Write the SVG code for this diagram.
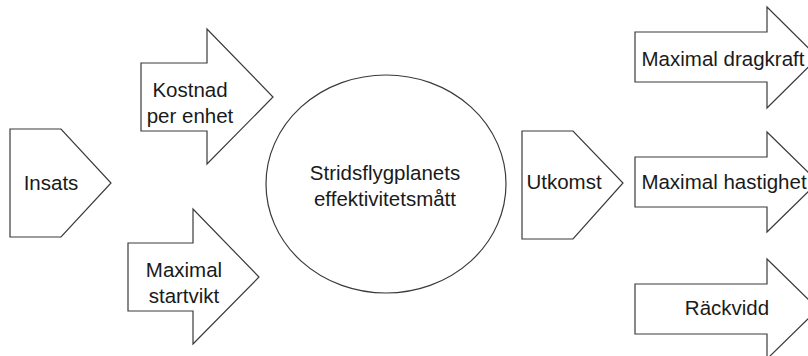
<svg xmlns="http://www.w3.org/2000/svg" width="808" height="356" viewBox="0 0 808 356">
<style>
.s{fill:#fff;stroke:#3a3a3a;stroke-width:1.2}
.t{font-family:"Liberation Sans",Arial,sans-serif;font-size:20.5px;fill:#1a1a1a;text-anchor:middle}
</style>
<rect width="808" height="356" fill="#fff"/>
<g id="connectors"></g>
<g id="insats"><polygon class="s" points="10,129 61,129 111,183 61,237 10,237"/><text class="t" x="51" y="190">Insats</text></g>
<g id="kostnad"><polygon class="s" points="141,63 207,63 207,29 273,97 207,164 207,131 141,131"/><text class="t" x="190" y="97">Kostnad</text><text class="t" x="190" y="123">per enhet</text></g>
<g id="startvikt"><polygon class="s" points="128,243 193,243 193,209 259,277 193,344 193,311 128,311"/><text class="t" x="184" y="277">Maximal</text><text class="t" x="184" y="303">startvikt</text></g>
<g id="matt"><ellipse class="s" cx="386" cy="184" rx="120" ry="109"/><text class="t" x="385" y="180">Stridsflygplanets</text><text class="t" x="385" y="206">effektivitetsmått</text></g>
<g id="utkomst"><polygon class="s" points="522,131 573,131 623,183 573,239 522,239"/><text class="t" x="564" y="189">Utkomst</text></g>
<g id="dragkraft"><polygon class="s" points="635,32 767,32 767,7 818,57.5 767,108 767,82 635,82"/><text class="t" x="723" y="66">Maximal dragkraft</text></g>
<g id="hastighet"><polygon class="s" points="635,157 767,157 767,132 818,182 767,232 767,207 635,207"/><text class="t" x="724" y="189">Maximal hastighet</text></g>
<g id="rackvidd"><polygon class="s" points="635,284 767,284 767,259 818,309 767,359 767,334 635,334"/><text class="t" x="727" y="315">Räckvidd</text></g>
</svg>
